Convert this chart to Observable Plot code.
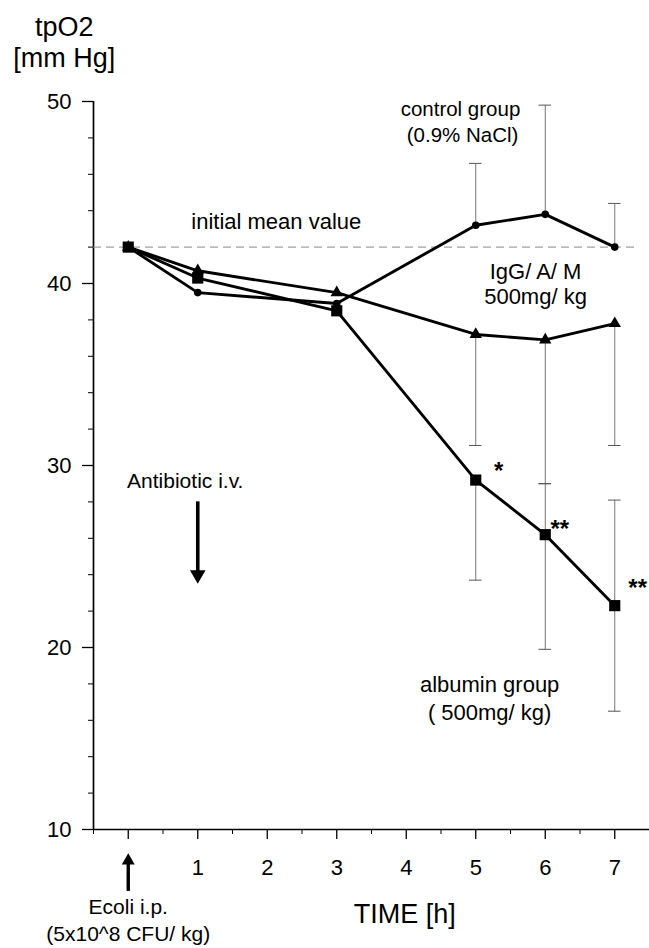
<!DOCTYPE html>
<html><head><meta charset="utf-8">
<script src="https://cdn.jsdelivr.net/npm/d3@7"></script>
<script src="https://cdn.jsdelivr.net/npm/@observablehq/plot@0.6"></script>
<style>body{margin:0;background:#fff;}</style>
</head><body><div id="chart"></div>
<script>
// ---- data ----
const times = [0, 1, 3, 5, 6, 7];
const control = [42, 39.5, 38.9, 43.2, 43.8, 42.0];   // circles, control group (0.9% NaCl)
const igg = [42, 40.7, 39.5, 37.2, 36.9, 37.8];       // triangles, IgG/A/M 500mg/kg
const albumin = [42, 40.3, 38.5, 29.2, 26.2, 22.3];   // squares, albumin group 500mg/kg
const initialMean = 42;

// error bars (start at mean, end at bar tip)
const errX    = [5, 6, 7, 5, 6, 7, 5, 6, 6, 7, 7];
const errFrom = [43.2, 43.8, 42.0, 37.2, 36.9, 37.8, 29.2, 26.2, 26.2, 22.3, 22.3];
const errTo   = [46.6, 49.8, 44.4, 31.1, 29.0, 31.1, 23.7, 19.9, 29.0, 16.5, 28.1];

// ticks
const yMajorTicks = [10, 20, 30, 40, 50];
const yMinorTicks = [12, 14, 16, 18, 22, 24, 26, 28, 32, 34, 36, 38, 42, 44, 46, 48];
const xMajorTicks = [0, 1, 2, 3, 4, 5, 6, 7];
const xTickLabels = ["", "1", "2", "3", "4", "5", "6", "7"];
const xMinorTicks = [-0.5, 0.5, 1.5, 2.5, 3.5, 4.5, 5.5, 6.5, 7.5];

// significance marks
const starX = [5.33, 6.21, 7.33];
const starY = [30.0, 26.8, 23.6];
const starText = ["*", "**", "**"];

// annotations
const noteText = ["tpO2", "[mm Hg]", "initial mean value", "control group", "(0.9% NaCl)",
  "IgG/ A/ M", "500mg/ kg", "albumin group", "( 500mg/ kg)", "Antibiotic i.v.",
  "Ecoli i.p.", "(5x10^8 CFU/ kg)", "TIME [h]"];
const noteX = [-0.92, -0.92, 2.13, 4.78, 4.81, 5.86, 5.86, 5.2, 5.2, 0.82, 0, 0, 3.98];
const noteY = [53.6, 51.9, 43.0, 49.2, 47.75, 40.27, 38.85, 17.58, 15.99, 28.79, 5.38, 3.9, 4.84];
const noteSize = [27, 27, 22, 20.5, 20.5, 22, 22, 22, 22, 21, 21, 21, 27];

// event arrows: antibiotic (down) and E. coli (up)
const antibioticArrow = [{x: 1, from: 27.7, to: 23.5}];
const ecoliArrow = [{x: 0, from: 6.9, to: 8.7}];

// ---- tables ----
const table = times.map((t, i) => ({t, control: control[i], igg: igg[i], albumin: albumin[i]}));
const errs = errX.map((x, i) => ({x, from: errFrom[i], to: errTo[i]}));
const stars = starX.map((x, i) => ({x, y: starY[i], text: starText[i]}));
const notes = noteText.map((text, i) => ({text, x: noteX[i], y: noteY[i], size: noteSize[i]}));

const capHalf = 0.09;

const chart = Plot.plot({
  width: 649,
  height: 948,
  marginLeft: 93,
  marginRight: 0,
  marginTop: 101,
  marginBottom: 119,
  x: {domain: [-0.5, 7.5]},
  y: {domain: [10, 50]},
  style: {fontFamily: "'Liberation Sans', Arial, sans-serif", color: "#000", background: "#fff", overflow: "visible"},
  marks: [
    // axes
    Plot.axisY({ticks: yMinorTicks, tickSize: 5, tickFormat: () => "", label: null, stroke: "#000"}),
    Plot.axisY({ticks: yMajorTicks, tickSize: 11, tickPadding: 11, fontSize: 22, label: null, stroke: "#000", strokeWidth: 1.3}),
    Plot.axisX({ticks: xMinorTicks, tickSize: 5, tickFormat: () => "", label: null, stroke: "#000"}),
    Plot.axisX({ticks: xMajorTicks, tickSize: 10, tickPadding: 20, fontSize: 22,
      tickFormat: d => xTickLabels[xMajorTicks.indexOf(d)], label: null, stroke: "#000", strokeWidth: 1.3}),
    Plot.ruleX([-0.5], {y1: 10, y2: 50, stroke: "#000", strokeWidth: 1.7}),
    Plot.ruleY([10], {stroke: "#000", strokeWidth: 1.7}),
    // initial mean
    Plot.ruleY([initialMean], {x1: -0.5, x2: 7.3, stroke: "#888", strokeWidth: 1, strokeDasharray: "8,5"}),
    // error bars
    Plot.link(errs, {x1: "x", x2: "x", y1: "from", y2: "to", stroke: "#777", strokeWidth: 1}),
    Plot.ruleY(errs, {y: "to", x1: d => d.x - capHalf, x2: d => d.x + capHalf, stroke: "#555", strokeWidth: 1}),
    // series
    Plot.line(table, {x: "t", y: "control", stroke: "#000", strokeWidth: 2.9}),
    Plot.line(table, {x: "t", y: "igg", stroke: "#000", strokeWidth: 2.9}),
    Plot.line(table, {x: "t", y: "albumin", stroke: "#000", strokeWidth: 2.9}),
    Plot.dot(table, {x: "t", y: "control", symbol: "circle", r: 3.8, fill: "#000"}),
    Plot.dot(table, {x: "t", y: "igg", symbol: "triangle", r: 4.6, fill: "#000"}),
    Plot.dot(table, {x: "t", y: "albumin", symbol: "square", r: 6.3, fill: "#000"}),
    // significance
    Plot.text(stars, {x: "x", y: "y", text: "text", fontSize: 24, fontWeight: "bold", dy: 6, fill: "#000"}),
    // annotations
    Plot.text(notes, {x: "x", y: "y", text: "text", fontSize: d => d.size, lineAnchor: "bottom", fill: "#000"}),
    // arrows
    Plot.link(antibioticArrow, {x1: "x", x2: "x", y1: "from", y2: "to", dy: -6, stroke: "#000", strokeWidth: 3.6}),
    Plot.dot(antibioticArrow, {x: "x", y: "to", symbol: "triangle", r: 5.8, rotate: 180, dy: -9, fill: "#000"}),
    Plot.link(ecoliArrow, {x1: "x", x2: "x", y1: "from", y2: "to", dy: 5, stroke: "#000", strokeWidth: 3.4}),
    Plot.dot(ecoliArrow, {x: "x", y: "to", symbol: "triangle", r: 4.8, dy: 7.5, fill: "#000"})
  ]
});
document.getElementById("chart").appendChild(chart);
</script>
</body></html>
